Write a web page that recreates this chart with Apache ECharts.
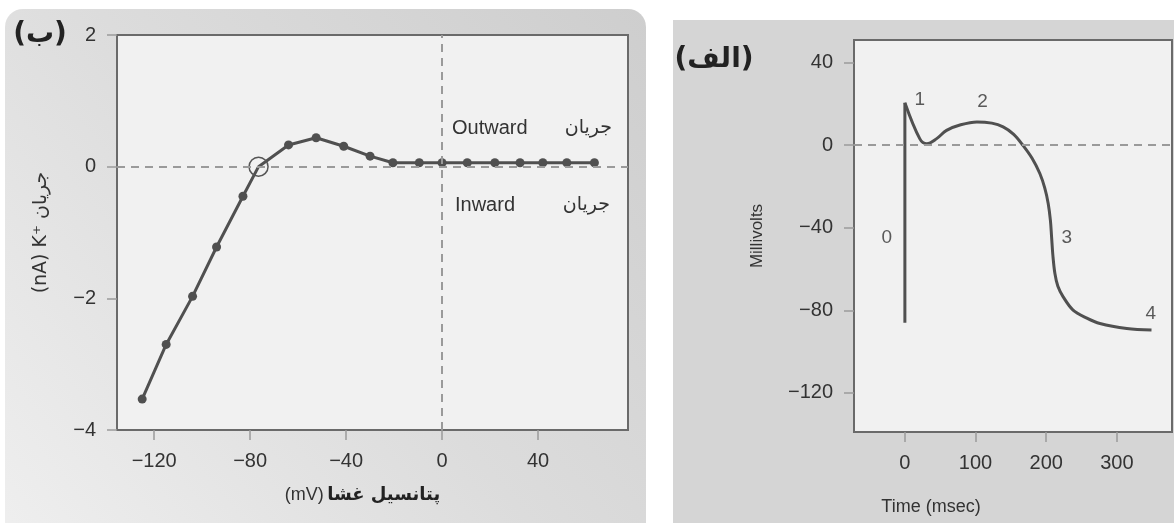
<!DOCTYPE html>
<html>
<head>
<meta charset="utf-8">
<script src="https://cdn.jsdelivr.net/npm/echarts@6/dist/echarts.min.js"></script>
<style>
html, body { margin: 0; padding: 0; background: #fff; }
#chart { width: 1174px; height: 523px; }
</style>
</head>
<body>
<div id="chart"></div>
<script>
// (ب) K+ current against membrane potential
var vmValues = [-125, -115, -104, -94, -83, -76.5, -64, -52.5, -41, -30, -20.5, -9.5, 0, 10.5, 22, 32.5, 42, 52, 63.5];
var ikValues = [-3.53, -2.70, -1.97, -1.22, -0.45, 0, 0.33, 0.44, 0.31, 0.16, 0.06, 0.06, 0.06, 0.06, 0.06, 0.06, 0.06, 0.06, 0.06];
var reversalIndex = 5;   // the open circle
var vmTicks = [-120, -80, -40, 0, 40];
var ikTicks = [-4, -2, 0, 2];

// (الف) action potential
var upstrokeTime = [0, 0];
var upstrokeVolt = [-86, 20.6];
var apTime = [0, 21, 31, 45, 59, 79, 102, 123, 139, 154, 167, 180, 191, 198, 202.8, 205.9, 207.6, 209.4, 212.3, 216.5, 224, 238, 257.5, 276, 314, 349];
var apVolt = [20.6, 3.2, 0.7, 3.2, 7.2, 9.9, 11.3, 10.7, 8.9, 5.3, 0, -6.3, -13.7, -20.8, -28.2, -36.3, -44.4, -53.3, -62.2, -68.4, -73.5, -79.9, -83.8, -86.4, -88.8, -89.6];
var timeTicks = [0, 100, 200, 300];
var voltTicks = [-120, -80, -40, 0, 40];
var phaseNames = ['0', '1', '2', '3', '4'];
var phaseTime = [-25.5, 21, 110, 229, 348];
var phaseVolt = [-45, 22, 21, -45, -81.5];

var chart = echarts.init(document.getElementById('chart'));

var numFont = '"Liberation Sans", Arial, sans-serif';
var arFont = '"DejaVu Sans", sans-serif';
var ink = '#505050';
var minusFmt = function (v) { return String(v).replace('-', '\u2212'); };

function zip(a, b) {
    var out = [];
    for (var i = 0; i < a.length; i++) out.push([a[i], b[i]]);
    return out;
}

var ivData = zip(vmValues, ikValues).map(function (p, i) {
    if (i !== reversalIndex) return p;
    return {
        value: p, symbol: 'circle', symbolSize: 19,
        itemStyle: { color: 'rgba(0,0,0,0)', borderColor: '#555', borderWidth: 1.5 }
    };
});

var phaseData = zip(phaseTime, phaseVolt).map(function (p, i) {
    return { value: p, name: phaseNames[i] };
});

function valueAxis(grid, min, max, ticks, extra) {
    var ax = {
        gridIndex: grid, type: 'value', min: min, max: max,
        axisLine: { show: true, onZero: false, lineStyle: { color: '#6a6a6a', width: 2 } },
        axisTick: { show: true, customValues: ticks, length: 10, lineStyle: { color: '#9a9a9a', width: 1.5 } },
        axisLabel: { customValues: ticks, formatter: minusFmt, fontSize: 20, color: '#333', fontFamily: numFont, margin: 21 },
        splitLine: { show: false }
    };
    for (var k in extra) ax[k] = extra[k];
    return ax;
}

var dashed = { color: '#9a9a9a', width: 2, type: [8, 6] };

var option = {
    backgroundColor: '#fff',
    animation: false,
    grid: [
        { left: 117, top: 35, width: 511, height: 395, show: true, backgroundColor: '#f1f1f1', borderColor: '#6a6a6a', borderWidth: 2 },
        { left: 854, top: 40, width: 318, height: 392, show: true, backgroundColor: '#f1f1f1', borderColor: '#6a6a6a', borderWidth: 2 }
    ],
    xAxis: [
        valueAxis(0, -135.5, 77.5, vmTicks, {
            name: '{a|(mV)} {b|پتانسیل غشا}',
            nameLocation: 'middle', nameGap: 56,
            nameTextStyle: {
                padding: [0, 20, 0, 0],
                rich: {
                    a: { fontSize: 18, fontFamily: numFont, color: '#333' },
                    b: { fontSize: 18, fontFamily: arFont, fontWeight: 'bold', color: '#222' }
                }
            }
        }),
        valueAxis(1, -72, 378, timeTicks, {
            name: 'Time (msec)',
            nameLocation: 'middle', nameGap: 66,
            nameTextStyle: { fontSize: 18, fontFamily: numFont, color: '#333', padding: [0, 164, 0, 0] }
        })
    ],
    yAxis: [
        valueAxis(0, -4, 2, ikTicks, {
            name: '(nA) K\u207A جریان',
            nameLocation: 'middle', nameGap: 66, nameRotate: 90,
            nameTextStyle: { fontSize: 19, fontFamily: arFont, color: '#333' }
        }),
        valueAxis(1, -139, 51, voltTicks, {
            name: 'Millivolts',
            nameLocation: 'middle', nameGap: 88, nameRotate: 90,
            nameTextStyle: { fontSize: 17, fontFamily: numFont, color: '#333' }
        })
    ],
    series: [
        {
            type: 'line', xAxisIndex: 0, yAxisIndex: 0,
            data: ivData,
            symbol: 'circle', symbolSize: 9,
            itemStyle: { color: ink },
            lineStyle: { color: ink, width: 3 },
            markLine: {
                silent: true, symbol: 'none', label: { show: false },
                lineStyle: dashed,
                data: [{ yAxis: 0 }, { xAxis: 0 }]
            },
            z: 3
        },
        {
            type: 'line', xAxisIndex: 1, yAxisIndex: 1,
            data: zip(upstrokeTime, upstrokeVolt),
            showSymbol: false, symbol: 'none',
            lineStyle: { color: ink, width: 3 }
        },
        {
            type: 'line', xAxisIndex: 1, yAxisIndex: 1,
            data: zip(apTime, apVolt),
            smooth: 0.35, showSymbol: false, symbol: 'none',
            lineStyle: { color: ink, width: 3 },
            markLine: {
                silent: true, symbol: 'none', label: { show: false },
                lineStyle: dashed,
                data: [{ yAxis: 0 }]
            }
        },
        {
            type: 'scatter', xAxisIndex: 1, yAxisIndex: 1,
            data: phaseData, symbolSize: 0,
            label: {
                show: true, position: 'inside', formatter: '{b}',
                fontSize: 19, fontFamily: numFont, color: '#333'
            }
        }
    ],
    graphic: [
        {
            type: 'rect', z: -100,
            shape: { x: 5, y: 9, width: 641, height: 540, r: [18, 18, 0, 0] },
            style: {
                fill: new echarts.graphic.LinearGradient(0, 1, 1, 0, [
                    { offset: 0, color: '#efefef' },
                    { offset: 0.5, color: '#dcdcdc' },
                    { offset: 1, color: '#cecece' }
                ])
            }
        },
        {
            type: 'rect', z: -100,
            shape: { x: 673, y: 20, width: 501, height: 503 },
            style: { fill: '#d5d5d5' }
        },
        {
            type: 'text', z: 100, x: 40, y: 35,
            style: { text: '(ب)', font: 'bold 28px "DejaVu Sans"', fill: '#222', align: 'center', verticalAlign: 'middle' }
        },
        {
            type: 'text', z: 100, x: 714, y: 60,
            style: { text: '(الف)', font: 'bold 28px "DejaVu Sans"', fill: '#222', align: 'center', verticalAlign: 'middle' }
        },
        {
            type: 'text', z: 100, x: 452, y: 128,
            style: { text: 'Outward', font: '20px "Liberation Sans"', fill: '#333', align: 'left', verticalAlign: 'middle' }
        },
        {
            type: 'text', z: 100, x: 612, y: 128,
            style: { text: 'جریان', font: '19px "DejaVu Sans"', fill: '#333', align: 'right', verticalAlign: 'middle' }
        },
        {
            type: 'text', z: 100, x: 455, y: 205,
            style: { text: 'Inward', font: '20px "Liberation Sans"', fill: '#333', align: 'left', verticalAlign: 'middle' }
        },
        {
            type: 'text', z: 100, x: 610, y: 205,
            style: { text: 'جریان', font: '19px "DejaVu Sans"', fill: '#333', align: 'right', verticalAlign: 'middle' }
        }
    ]
};

chart.setOption(option);
</script>
</body>
</html>
